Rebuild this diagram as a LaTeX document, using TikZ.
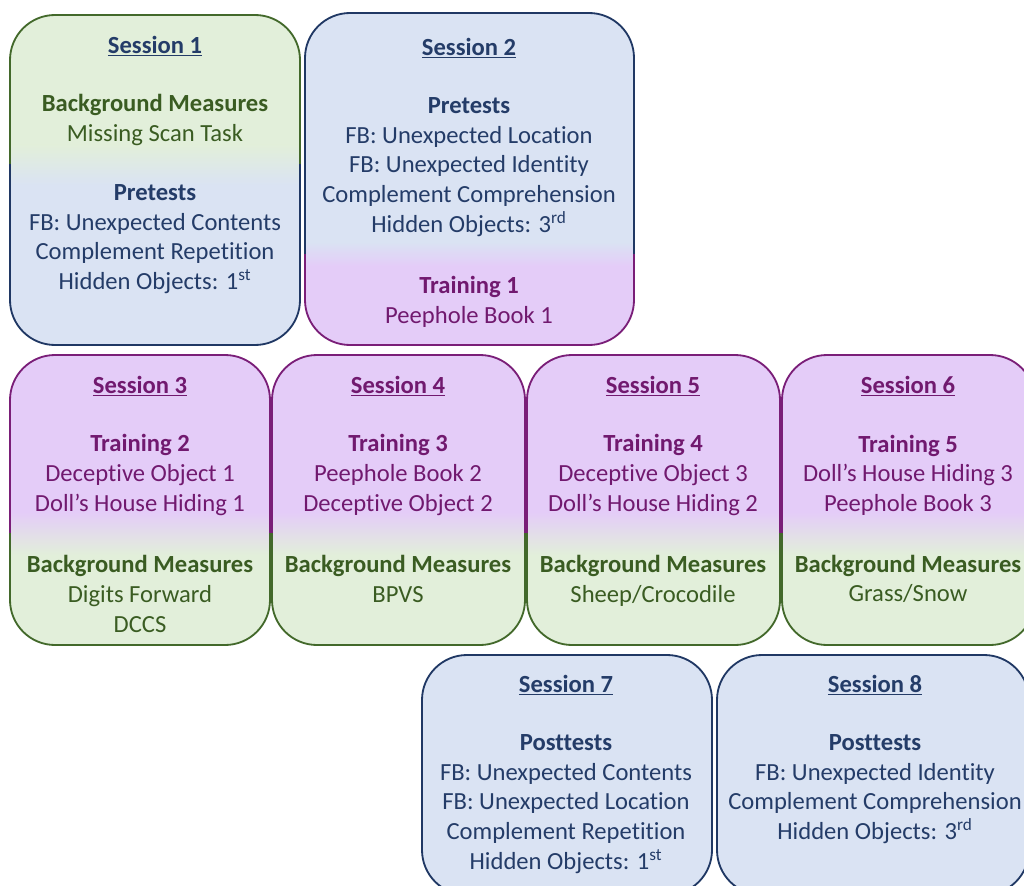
\documentclass[tikz,border=0pt]{standalone}
\usepackage{fontspec}
\setmainfont{Carlito}[Ligatures=NoCommon]

\definecolor{grfill}{HTML}{E2EFDA}
\definecolor{grline}{HTML}{43692B}
\definecolor{grtext}{HTML}{3A5C22}
\definecolor{blfill}{HTML}{DAE3F3}
\definecolor{blline}{HTML}{203864}
\definecolor{bltext}{HTML}{243C68}
\definecolor{pufill}{HTML}{E4CCF8}
\definecolor{puline}{HTML}{7A1E78}
\definecolor{putext}{HTML}{71196F}

\tikzset{
  boxline/.style={line width=1.3pt, rounded corners=1.125cm},
  txt/.style={align=center, inner sep=0pt, font=\fontsize{17.5}{21.05}\selectfont},
  gtxt/.style={txt, text=grtext},
  btxt/.style={txt, text=bltext},
  ptxt/.style={txt, text=putext}
}

% rounded box from (#1,#2) to (#3,#4), colour #5 at the top, #6 at the bottom,
% changing between heights #7 and #8
\newcommand\sessbox[8]{%
  \begin{scope}
    \clip[rounded corners=1.125cm] (#1,#2) rectangle (#3,#4);
    \fill[#5fill] (#1,#2) rectangle (#3,#7);
    \shade[top color=#5fill, bottom color=#6fill] (#1,#7) rectangle (#3,#8);
    \fill[#6fill] (#1,#8) rectangle (#3,#4);
  \end{scope}
  \begin{scope}
    \clip (#1-5,#2-5) rectangle (#3+5,{(#7+#8)/2});
    \draw[boxline, #5line] (#1,#2) rectangle (#3,#4);
  \end{scope}
  \begin{scope}
    \clip (#1-5,{(#7+#8)/2}) rectangle (#3+5,#4+5);
    \draw[boxline, #6line] (#1,#2) rectangle (#3,#4);
  \end{scope}}
\newcommand\stitle[1]{\textbf{\underline{#1}}}

\begin{document}
\begin{tikzpicture}[x=0.025cm, y=-0.025cm]
\clip (0,0) rectangle (1024,886);

\sessbox{10}{15}{300}{345}{gr}{bl}{145}{185}
\sessbox{305}{13}{634}{345}{bl}{pu}{242}{266}
\sessbox{10}{355}{270}{645}{pu}{gr}{512}{555}
\sessbox{272}{355}{525}{645}{pu}{gr}{512}{555}
\sessbox{527}{355}{780}{645}{pu}{gr}{512}{555}
\sessbox{782}{355}{1035}{645}{pu}{gr}{512}{555}
\sessbox{422}{655}{712}{895}{bl}{bl}{700}{750}
\sessbox{717}{655}{1029}{895}{bl}{bl}{700}{750}

\node[btxt] (s1t) at (155,46) {\stitle{Session 1}};
\node[gtxt] (s1a) at (155,120) {\textbf{Background Measures}\\Missing Scan Task};
\node[btxt] (s1b) at (155,239) {\textbf{Pretests}\\FB: Unexpected Contents\\Complement Repetition\\Hidden Objects: 1\textsuperscript{st}};

\node[btxt] (s2t) at (469,48) {\stitle{Session 2}};
\node[btxt] (s2a) at (469,167) {\textbf{Pretests}\\FB: Unexpected Location\\FB: Unexpected Identity\\Complement Comprehension\\Hidden Objects: 3\textsuperscript{rd}};
\node[ptxt] (s2b) at (469,302) {\textbf{Training 1}\\Peephole Book 1};

\node[ptxt] (s3t) at (140,386) {\stitle{Session 3}};
\node[ptxt] (s3a) at (140,475) {\textbf{Training 2}\\Deceptive Object 1\\Doll’s House Hiding 1};
\node[gtxt] (s3b) at (140,594) {\textbf{Background Measures}\\Digits Forward\\DCCS};

\node[ptxt] (s4t) at (398,386) {\stitle{Session 4}};
\node[ptxt] (s4a) at (398,475) {\textbf{Training 3}\\Peephole Book 2\\Deceptive Object 2};
\node[gtxt] (s4b) at (398,579) {\textbf{Background Measures}\\BPVS};

\node[ptxt] (s5t) at (653,386) {\stitle{Session 5}};
\node[ptxt] (s5a) at (653,475) {\textbf{Training 4}\\Deceptive Object 3\\Doll’s House Hiding 2};
\node[gtxt] (s5b) at (653,581) {\textbf{Background Measures}\\Sheep/Crocodile};

\node[ptxt] (s6t) at (908,386) {\stitle{Session 6}};
\node[ptxt] (s6a) at (908,475) {\textbf{Training 5}\\Doll’s House Hiding 3\\Peephole Book 3};
\node[gtxt] (s6b) at (908,579) {\textbf{Background Measures}\\Grass/Snow};

\node[btxt] (s7t) at (566,685) {\stitle{Session 7}};
\node[btxt] (s7a) at (566,804) {\textbf{Posttests}\\FB: Unexpected Contents\\FB: Unexpected Location\\Complement Repetition\\Hidden Objects: 1\textsuperscript{st}};

\node[btxt] (s8t) at (875,685) {\stitle{Session 8}};
\node[btxt] (s8a) at (875,789) {\textbf{Posttests}\\FB: Unexpected Identity\\Complement Comprehension\\Hidden Objects: 3\textsuperscript{rd}};
\end{tikzpicture}
\end{document}
